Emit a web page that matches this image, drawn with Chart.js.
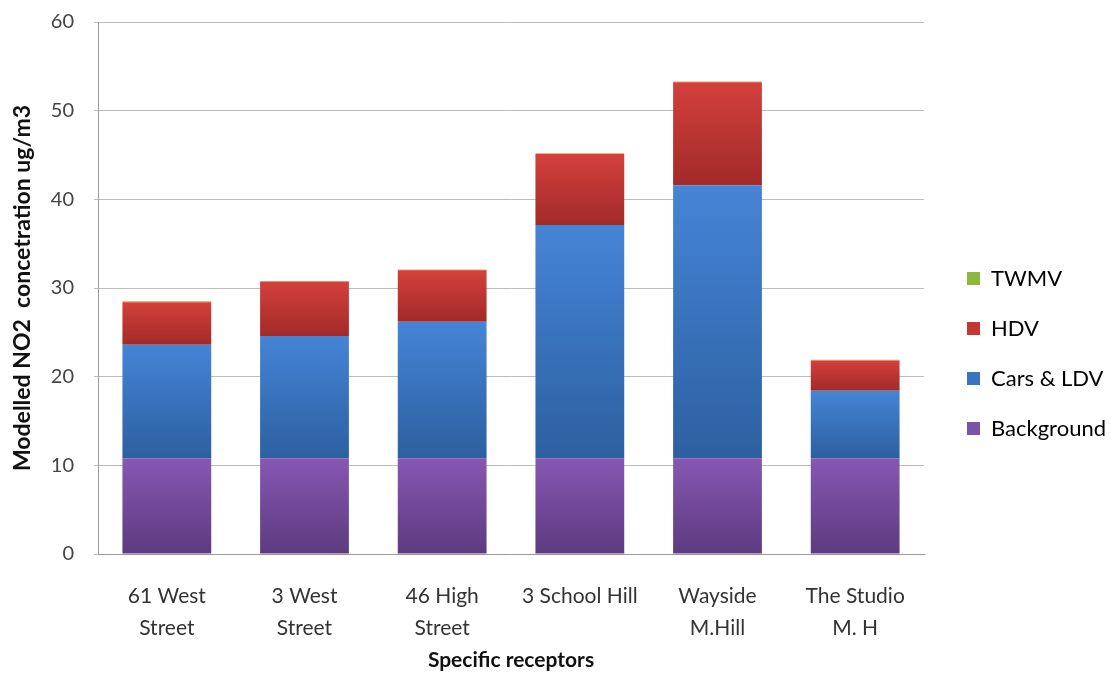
<!DOCTYPE html>
<html>
<head>
<meta charset="utf-8">
<title>Modelled NO2 concentration</title>
<script src="https://cdn.jsdelivr.net/npm/chart.js@4"></script>
<style>
  html, body { margin: 0; padding: 0; background: #fff; }
  #wrap { width: 1120px; height: 673px; }
</style>
</head>
<body>
<div id="wrap"><canvas id="chart" width="1120" height="673"></canvas></div>
<script>
// Data
const receptors = [
    ['61 West', 'Street'],
    ['3 West', 'Street'],
    ['46 High', 'Street'],
    '3 School Hill',
    ['Wayside', 'M.Hill'],
    ['The Studio', 'M. H']
];
const background = [10.8, 10.8, 10.8, 10.8, 10.8, 10.8];
const carsLdv = [12.8, 13.8, 15.4, 26.3, 30.8, 7.6];
const hdv = [4.8, 6.1, 5.8, 8.0, 11.6, 3.4];
const twmv = [0.1, 0.1, 0.1, 0.1, 0.1, 0.1];
const yTicks = [0, 10, 20, 30, 40, 50, 60];

const stackOrder = [background, carsLdv, hdv, twmv];

// vertical gradient per bar segment, like the Excel 2007 look
function segmentFill(seriesIdx, light, dark, flat) {
    return ctx => {
        const chart = ctx.chart;
        const y = chart.scales.y;
        if (!chart.chartArea || !y || ctx.type !== 'data') return flat;
        let base = 0;
        for (let k = 0; k < seriesIdx; k++) base += stackOrder[k][ctx.dataIndex];
        const top = y.getPixelForValue(base + stackOrder[seriesIdx][ctx.dataIndex]);
        const bottom = y.getPixelForValue(base);
        if (!isFinite(top) || !isFinite(bottom) || top === bottom) return flat;
        const g = chart.ctx.createLinearGradient(0, top, 0, bottom);
        g.addColorStop(0, light);
        g.addColorStop(1, dark);
        return g;
    };
}

// keep legend items where the reference has them
const legendPlacement = {
    id: 'legendPlacement',
    afterInit(chart) {
        const legend = chart.legend;
        const fit = legend.fit;
        legend.fit = function () {
            fit.call(this);
            this.width = 196;
        };
    },
    afterLayout(chart) {
        chart.legend.left += 15;
        chart.legend.right += 15;
        chart.legend.top += 6;
        chart.legend.bottom += 6;
    }
};

const font = 'Lato, "Liberation Sans", sans-serif';

new Chart(document.getElementById('chart'), {
    type: 'bar',
    data: {
        labels: receptors,
        datasets: [
            {
                label: 'Background',
                data: background,
                backgroundColor: segmentFill(0, '#8757b3', '#5c3b7f', '#7a52a6')
            },
            {
                label: 'Cars & LDV',
                data: carsLdv,
                backgroundColor: segmentFill(1, '#4584d6', '#2c60a0', '#3a74c0')
            },
            {
                label: 'HDV',
                data: hdv,
                backgroundColor: segmentFill(2, '#d4403c', '#a22a28', '#c43834')
            },
            {
                label: 'TWMV',
                data: twmv,
                backgroundColor: segmentFill(3, '#e8a060', '#e08040', '#8cb83c')
            }
        ]
    },
    options: {
        responsive: false,
        animation: false,
        devicePixelRatio: 1,
        layout: { padding: { top: 22, right: 0, bottom: 0, left: 0 } },
        datasets: {
            bar: { barPercentage: 0.645, categoryPercentage: 1.0, borderWidth: 0 }
        },
        plugins: {
            legend: {
                position: 'right',
                reverse: true,
                labels: {
                    boxWidth: 13,
                    boxHeight: 13,
                    padding: 28,
                    color: '#333',
                    font: { family: font, size: 22 },
                    generateLabels(chart) {
                        const flats = ['#7a52a6', '#3a74c0', '#c43834', '#8cb83c'];
                        return chart.data.datasets.map((ds, i) => ({
                            text: ds.label,
                            fillStyle: flats[i],
                            strokeStyle: flats[i],
                            lineWidth: 0,
                            datasetIndex: i,
                            hidden: false
                        }));
                    }
                }
            },
            tooltip: { enabled: false }
        },
        scales: {
            x: {
                stacked: true,
                grid: { display: false },
                border: { display: true, color: '#9a9a9a', width: 1 },
                ticks: {
                    color: '#333',
                    padding: 18,
                    maxRotation: 0,
                    autoSkip: false,
                    font: { family: font, size: 21, lineHeight: 1.52 }
                },
                title: {
                    display: true,
                    text: 'Specific receptors',
                    color: '#111',
                    padding: { top: 0, bottom: 0 },
                    font: { family: font, size: 21, weight: 'bold' }
                },
                afterFit(scale) { scale.height = 119; }
            },
            y: {
                stacked: true,
                min: 0,
                max: 60,
                afterBuildTicks(scale) {
                    scale.ticks = yTicks.map(v => ({ value: v }));
                },
                grid: { color: '#bdbdbd', lineWidth: 1, tickLength: 4 },
                border: { display: true, color: '#9a9a9a', width: 1 },
                ticks: {
                    color: '#444',
                    padding: 20,
                    font: { family: font, size: 20 }
                },
                title: {
                    display: true,
                    text: 'Modelled NO2  concetration ug/m3',
                    color: '#111',
                    padding: { top: 9, bottom: 0 },
                    font: { family: font, size: 23, weight: 'bold' }
                },
                afterFit(scale) {
                    scale.width = 98;
                    scale.paddingTop = 0;
                    scale.paddingBottom = 0;
                }
            }
        }
    },
    plugins: [legendPlacement]
});
</script>
</body>
</html>
